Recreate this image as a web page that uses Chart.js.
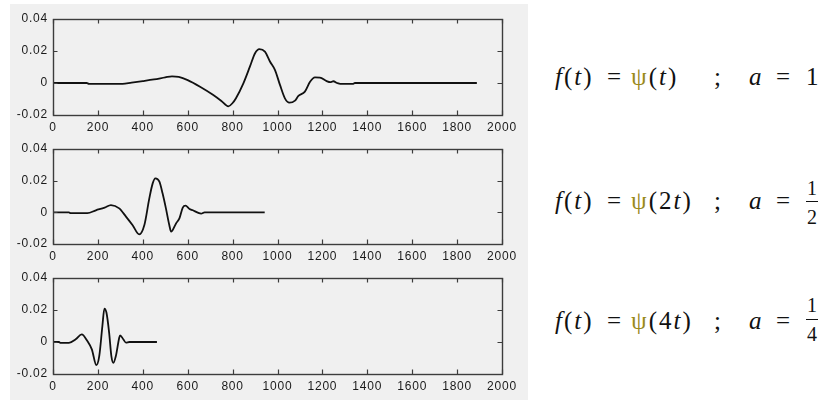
<!DOCTYPE html>
<html>
<head>
<meta charset="utf-8">
<script src="https://cdn.jsdelivr.net/npm/chart.js@4.4.1/dist/chart.umd.min.js"></script>
<style>
  html, body { margin:0; padding:0; background:#ffffff; }
  body { width:823px; height:402px; position:relative; overflow:hidden; }
  #fig { position:absolute; left:10px; top:4px; width:518px; height:396px; background:#f0f0f0; }
  .cv { position:absolute; left:10px; }
  .eq { position:absolute; font-family:"Liberation Serif","DejaVu Serif",serif; font-size:25px; line-height:25px; color:#111; white-space:nowrap; letter-spacing:2px; }
  .psi { color:#9a8a1c; }
  .num { position:absolute; font-family:"Liberation Serif","DejaVu Serif",serif; font-size:20px; line-height:20px; color:#111; width:12px; text-align:center; }
  .bar { position:absolute; height:1.3px; background:#111; width:12px; }
</style>
</head>
<body>
<div id="fig"></div>
<canvas id="c1" class="cv" style="top:4px" width="518" height="131"></canvas>
<canvas id="c2" class="cv" style="top:135px" width="518" height="130"></canvas>
<canvas id="c3" class="cv" style="top:265px" width="518" height="135"></canvas>

<!-- row 1 -->
<div class="eq" style="left:555px;top:64px"><i>f</i>(<i>t</i>)</div>
<div class="eq" style="left:607px;top:64px">=</div>
<div class="eq" style="left:631px;top:64px"><span class="psi">ψ</span>(<i>t</i>)</div>
<div class="eq" style="left:714px;top:64px">;</div>
<div class="eq" style="left:749px;top:64px"><i>a</i></div>
<div class="eq" style="left:776px;top:64px">=</div>
<div class="eq" style="left:806px;top:64px">1</div>

<!-- row 2 -->
<div class="eq" style="left:555px;top:188px"><i>f</i>(<i>t</i>)</div>
<div class="eq" style="left:607px;top:188px">=</div>
<div class="eq" style="left:631px;top:188px"><span class="psi">ψ</span>(2<i>t</i>)</div>
<div class="eq" style="left:714px;top:188px">;</div>
<div class="eq" style="left:749px;top:188px"><i>a</i></div>
<div class="eq" style="left:776px;top:188px">=</div>
<div class="num" style="left:806px;top:178px">1</div>
<div class="bar" style="left:806px;top:201px"></div>
<div class="num" style="left:806px;top:207px">2</div>

<!-- row 3 -->
<div class="eq" style="left:555px;top:308px"><i>f</i>(<i>t</i>)</div>
<div class="eq" style="left:607px;top:308px">=</div>
<div class="eq" style="left:631px;top:308px"><span class="psi">ψ</span>(4<i>t</i>)</div>
<div class="eq" style="left:714px;top:308px">;</div>
<div class="eq" style="left:749px;top:308px"><i>a</i></div>
<div class="eq" style="left:776px;top:308px">=</div>
<div class="num" style="left:806px;top:295px">1</div>
<div class="bar" style="left:806px;top:319px"></div>
<div class="num" style="left:806px;top:324px">4</div>

<script>
// ---- data ----
const xTickValues = [0, 200, 400, 600, 800, 1000, 1200, 1400, 1600, 1800, 2000];
const yTickValues = [-0.02, 0, 0.02, 0.04];
const yTickLabels = ['-0.02', '0', '0.02', '0.04'];

// panel 1: psi(t)
const t1 = [0,150,160,310,350,400,450,500,530,560,600,655,714,750,781,800,815,848,877,900,919,944,967,989,1011,1033,1053,1078,1093,1122,1145,1167,1189,1219,1235,1249,1265,1280,1335,1345,1888];
const f1 = [0,0,-0.0005,-0.0005,0.0003,0.0012,0.0022,0.0035,0.0042,0.0038,0.0018,-0.0023,-0.0075,-0.0112,-0.0146,-0.0125,-0.0095,-0.0002,0.0102,0.0186,0.0212,0.0196,0.0133,0.0081,-0.0012,-0.0096,-0.0123,-0.0110,-0.0081,-0.0054,0.0008,0.0035,0.0034,0.0012,0.0005,0.0011,0.0000,-0.0006,-0.0006,0,0];

// panel 2: psi(2t)
const t2 = [0,71,78,153,191,230,258,295,325,354,384,407,429,444,456,474,488,503,518,526,548,563,578,590,608,623,645,660,675,943];
const f2 = [0,0,-0.0005,-0.0005,0.0013,0.0030,0.0046,0.0025,-0.0027,-0.0080,-0.0139,-0.0080,0.0088,0.0183,0.0215,0.0194,0.0120,0.0025,-0.0080,-0.0122,-0.0070,-0.0038,0.0030,0.0042,0.0021,0.0013,-0.0002,-0.0008,0,0];

// panel 3: psi(4t)
const t3 = [0,27,32,71,101,128,153,173,193,206,220,229,238,250,260,269,280,295,299,313,325,340,463];
const f3 = [0,0,-0.0005,-0.0005,0.0017,0.0048,0.0006,-0.0046,-0.0144,-0.0088,0.0100,0.0209,0.0184,0.0059,-0.0088,-0.0130,-0.0088,0.0027,0.0042,0.0017,-0.0004,0,0];

// ---- drawing ----
const boxPlugin = {
  id: 'box',
  beforeDraw(chart) { chart.ctx.letterSpacing = '0.8px'; },
  afterDraw(chart) {
    const ctx = chart.ctx, a = chart.chartArea;
    const xs = chart.scales.x, ys = chart.scales.y;
    const L = 4.5;
    ctx.save();
    ctx.strokeStyle = '#3c3c3c';
    ctx.lineWidth = 1.2;
    ctx.beginPath();
    xs.ticks.forEach(t => {
      const px = Math.round(xs.getPixelForValue(t.value)) + 0.5;
      ctx.moveTo(px, a.bottom); ctx.lineTo(px, a.bottom - L);
      ctx.moveTo(px, a.top); ctx.lineTo(px, a.top + L);
    });
    ys.ticks.forEach(t => {
      const py = Math.round(ys.getPixelForValue(t.value)) + 0.5;
      ctx.moveTo(a.left, py); ctx.lineTo(a.left + L, py);
      ctx.moveTo(a.right, py); ctx.lineTo(a.right - L, py);
    });
    ctx.stroke();
    ctx.lineWidth = 1.4;
    ctx.strokeRect(Math.round(a.left) + 0.5, Math.round(a.top) + 0.5, Math.round(a.right - a.left), Math.round(a.bottom - a.top));
    ctx.restore();
  }
};

function makeChart(id, tx, fy, padTop, xAxisH) {
  const pts = tx.map((x, i) => ({ x: x, y: fy[i] }));
  return new Chart(document.getElementById(id), {
    type: 'line',
    data: { datasets: [{ data: pts, borderColor: '#111', borderWidth: 1.8, pointRadius: 0, cubicInterpolationMode: 'monotone', fill: false }] },
    options: {
      responsive: false, animation: false,
      layout: { padding: { top: padTop, right: 26, left: 0, bottom: 0 } },
      plugins: { legend: { display: false }, tooltip: { enabled: false } },
      scales: {
        x: {
          type: 'linear', min: 0, max: 2000,
          afterBuildTicks: s => { s.ticks = xTickValues.map(v => ({ value: v })); },
          afterFit: s => { s.height = xAxisH; },
          grid: { display: false, drawTicks: false, tickLength: 0 }, border: { display: false },
          ticks: { color: '#1a1a1a', font: { family: 'Liberation Sans, Arial, sans-serif', size: 12 }, padding: 5, maxRotation: 0, autoSkip: false,
                   callback: v => String(v) }
        },
        y: {
          type: 'linear', min: -0.02, max: 0.04,
          afterBuildTicks: s => { s.ticks = yTickValues.map(v => ({ value: v })); },
          afterFit: s => { s.width = 43; },
          grid: { display: false, drawTicks: false, tickLength: 0 }, border: { display: false },
          ticks: { color: '#1a1a1a', font: { family: 'Liberation Sans, Arial, sans-serif', size: 12 }, padding: 5,
                   callback: v => { const i = yTickValues.findIndex(q => Math.abs(q - v) < 1e-9); return i >= 0 ? yTickLabels[i] : ''; } }
        }
      }
    },
    plugins: [boxPlugin]
  });
}

makeChart('c1', t1, f1, 15, 20);
makeChart('c2', t2, f2, 14, 21);
makeChart('c3', t3, f3, 13, 26);
</script>
</body>
</html>
